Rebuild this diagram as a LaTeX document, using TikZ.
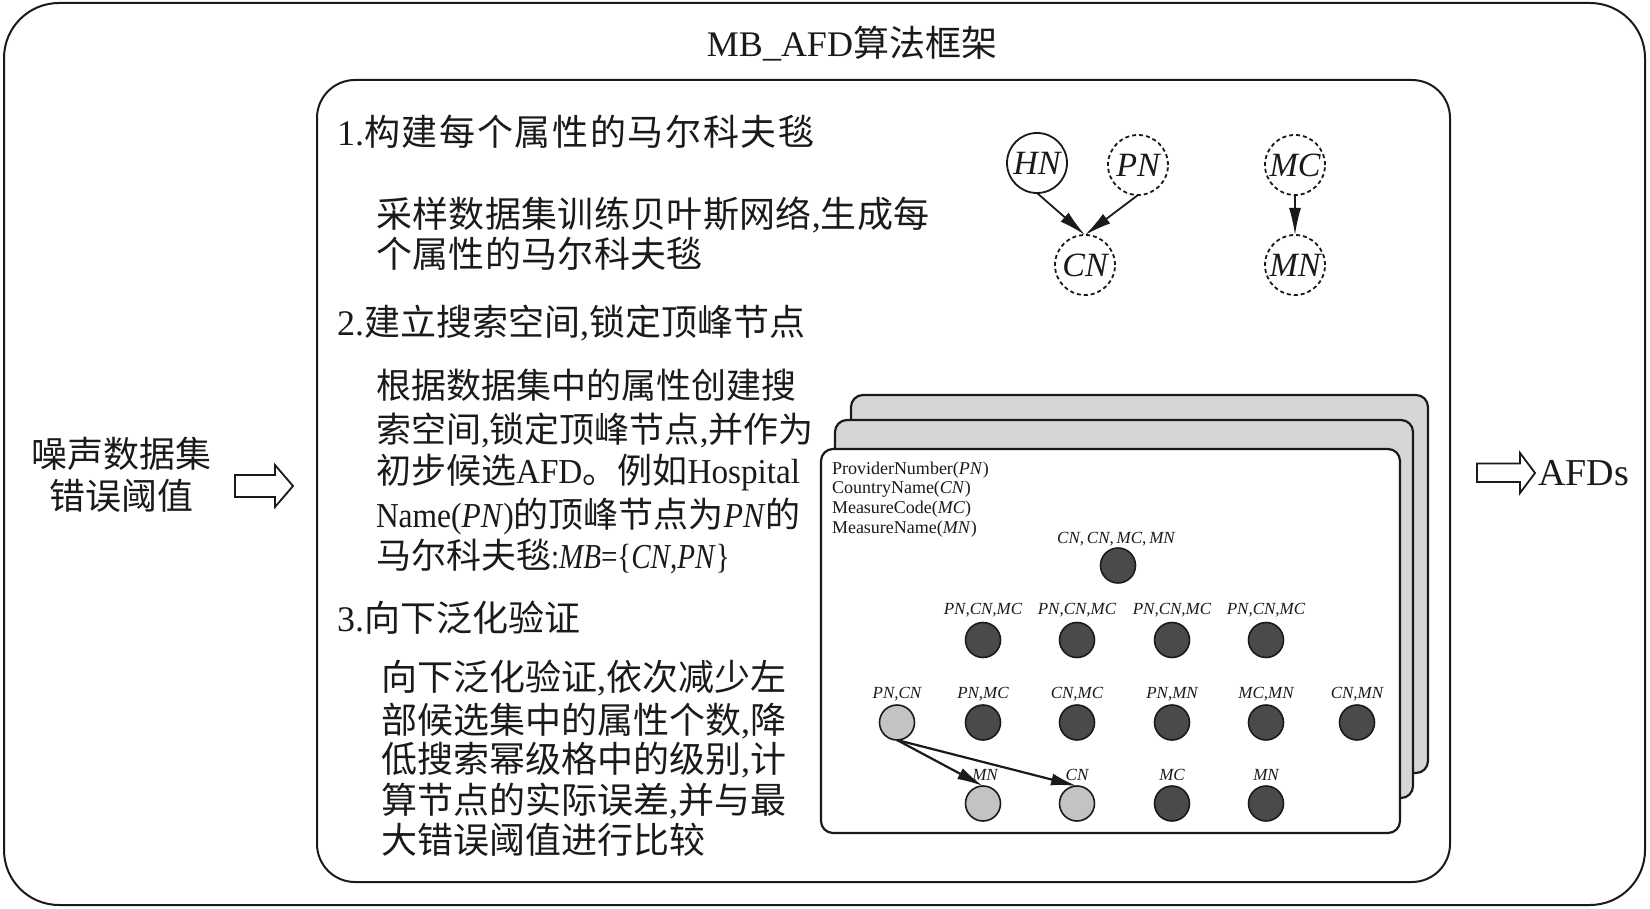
\documentclass[tikz,border=0pt]{standalone}
\usepackage{fontspec}
\usepackage{graphicx}
\setmainfont{Liberation Serif}
\newfontfamily\cjk{Noto Sans CJK SC}
\usetikzlibrary{arrows.meta}
\newcount\cjkc
\cjkc="4E00
\loop\XeTeXcharclass\cjkc=7 \advance\cjkc by 1 \ifnum\cjkc<"A000 \repeat
\XeTeXcharclass"3002=7
\newdimen\cjkgap
\cjkgap=0pt
\XeTeXinterchartoks 7 7 = {\hskip\cjkgap\relax}
\XeTeXinterchartokenstate=1
\definecolor{cardgray}{RGB}{214,214,214}
\definecolor{dkfill}{RGB}{74,74,74}
\definecolor{ltfill}{RGB}{195,195,195}
\definecolor{linec}{RGB}{26,26,26}
\newcommand{\sqz}[2]{\scalebox{#1}[1]{#2}}
\begin{document}
\begin{tikzpicture}[x=1pt,y=-1pt,
  every node/.style={inner sep=0pt, outer sep=0pt, text=linec},
  txt/.style={anchor=base west, font=\fontsize{36}{40}\selectfont},
  txtb/.style={anchor=base west, font=\fontsize{35}{40}\selectfont},
  ctxt/.style={anchor=base, font=\fontsize{36}{40}\selectfont},
  frame/.style={draw=linec, line width=2pt},
  card/.style={draw=linec, line width=2.2pt, rounded corners=12pt},
  legend/.style={anchor=base west, font=\fontsize{18}{20}\selectfont},
  bn/.style={circle, draw=linec, line width=1.8pt, minimum size=60pt, font=\fontsize{34}{34}\selectfont\itshape},
  bnd/.style={bn, dash pattern=on 4pt off 3pt},
  barr/.style={draw=linec, line width=1.8pt, -{Latex[length=27pt,width=12pt]}},
  carr/.style={draw=linec, line width=2.2pt, -{Latex[length=26pt,width=12pt]}},
  dk/.style={circle, draw=linec, line width=1.6pt, fill=dkfill, minimum size=35pt},
  lt/.style={circle, draw=linec, line width=1.6pt, fill=ltfill, minimum size=35pt},
  lab/.style={anchor=base, font=\fontsize{17}{17}\selectfont\itshape},
  barrow/.style={draw=linec, line width=1.8pt, fill=white, line join=miter}
]
\useasboundingbox (0,0) rectangle (1650,909);

% frames
\draw[frame, rounded corners=55pt] (4,3) rectangle (1645,905);
\draw[frame, rounded corners=38pt] (317,80) rectangle (1450,882);

% title
\node[ctxt] (title) at (852,57) {MB\_AFD{\cjk 算法框架}};

% input
\node[ctxt] (in1) at (121,467) {\cjk 噪声数据集};
\node[ctxt] (in2) at (121,509) {\cjk 错误阈值};
\draw[barrow] (235,475) -- (275,475) -- (275,465) -- (293,486) -- (275,507) -- (275,497) -- (235,497) -- cycle;

% output
\draw[barrow] (1477,463.5) -- (1520,463.5) -- (1520,453) -- (1535,473) -- (1520,493) -- (1520,482) -- (1477,482) -- cycle;
\node[anchor=base west, font=\fontsize{38}{40}\selectfont] (afds) at (1538,485) {AFDs};

% step 1
\node[txt] (h1) at (337,146) {\cjkgap=1.7pt 1.{\cjk 构建每个属性的马尔科夫毯}};
\node[txt] (p1a) at (376,228) {\cjkgap=0.35pt {\cjk 采样数据集训练贝叶斯网络},{\cjk 生成每}};
\node[txt] (p1b) at (376,268) {\cjkgap=0.35pt {\cjk 个属性的马尔科夫毯}};

% step 2
\node[txt] (h2) at (337,336) {2.{\cjk 建立搜索空间},{\cjk 锁定顶峰节点}};
\node[txtb] (p2a) at (376,399) {\cjk 根据数据集中的属性创建搜};
\node[txtb] (p2b) at (376,442) {{\cjk 索空间},{\cjk 锁定顶峰节点},{\cjk 并作为}};
\node[txtb] (p2c) at (376,483) {{\cjk 初步候选}\sqz{0.95}{AFD}{\cjk 。例如}\sqz{0.95}{Hospital}};
\node[txtb] (p2d) at (376,527) {\sqz{0.9}{Name(\textit{PN})}{\cjk 的顶峰节点为}\sqz{0.9}{\textit{PN}}{\cjk 的}};
\node[txtb] (p2e) at (376,568) {{\cjk 马尔科夫毯}\sqz{0.83}{:\textit{MB}=\{\textit{CN},\textit{PN}\}}};

% step 3
\node[txt] (h3) at (337,631) {3.{\cjk 向下泛化验证}};
\node[txt] (p3a) at (381,690) {{\cjk 向下泛化验证},{\cjk 依次减少左}};
\node[txt] (p3b) at (381,733) {{\cjk 部候选集中的属性个数},{\cjk 降}};
\node[txt] (p3c) at (381,772) {{\cjk 低搜索幂级格中的级别},{\cjk 计}};
\node[txt] (p3d) at (381,813) {{\cjk 算节点的实际误差},{\cjk 并与最}};
\node[txt] (p3e) at (381,853) {\cjk 大错误阈值进行比较};

% Bayesian network
\node[bn]  (HN) at (1037,163) {HN};
\node[bnd] (PN) at (1138,165) {PN};
\node[bnd] (MC) at (1295,165) {MC};
\node[bnd] (CN) at (1085,265) {CN};
\node[bnd] (MN) at (1295,265) {MN};
\draw[barr] (HN.south) -- (CN.north);
\draw[barr] (PN.south) -- (CN.north);
\draw[barr] (MC.south) -- (MN.north);

% stacked cards
\draw[card, fill=cardgray] (851,395) rectangle (1428,773);
\draw[card, fill=cardgray] (835,420) rectangle (1413,798);
\draw[card, fill=white] (821,449) rectangle (1400,833);

\node[legend] (lg1) at (832,474) {ProviderNumber(\textit{PN})};
\node[legend] (lg2) at (832,493.7) {CountryName(\textit{CN})};
\node[legend] (lg3) at (832,513.4) {MeasureCode(\textit{MC})};
\node[legend] (lg4) at (832,533) {MeasureName(\textit{MN})};

% lattice
\node[dk] (t0) at (1118,565.5) {};
\node[lab] (lt0) at (1116,543) {CN,\,CN,\,MC,\,MN};

\node[dk] (r2a) at (983,640) {};
\node[dk] (r2b) at (1077,640) {};
\node[dk] (r2c) at (1172,640) {};
\node[dk] (r2d) at (1266,640) {};
\node[lab] (l2a) at (983,614) {PN,CN,MC};
\node[lab] (l2b) at (1077,614) {PN,CN,MC};
\node[lab] (l2c) at (1172,614) {PN,CN,MC};
\node[lab] (l2d) at (1266,614) {PN,CN,MC};

\node[lt] (r3a) at (897,722.5) {};
\node[dk] (r3b) at (983,722.5) {};
\node[dk] (r3c) at (1077,722.5) {};
\node[dk] (r3d) at (1172,722.5) {};
\node[dk] (r3e) at (1266,722.5) {};
\node[dk] (r3f) at (1357,722.5) {};
\node[lab] (l3a) at (897,698) {PN,CN};
\node[lab] (l3b) at (983,698) {PN,MC};
\node[lab] (l3c) at (1077,698) {CN,MC};
\node[lab] (l3d) at (1172,698) {PN,MN};
\node[lab] (l3e) at (1266,698) {MC,MN};
\node[lab] (l3f) at (1357,698) {CN,MN};

\node[lt] (r4a) at (983,803.5) {};
\node[lt] (r4b) at (1077,803.5) {};
\node[dk] (r4c) at (1172,803.5) {};
\node[dk] (r4d) at (1266,803.5) {};
\node[lab] (l4a) at (985,780) {MN};
\node[lab] (l4b) at (1077,780) {CN};
\node[lab] (l4c) at (1172,780) {MC};
\node[lab] (l4d) at (1266,780) {MN};

\draw[carr] (r3a.south) -- (r4a.north);
\draw[carr] (r3a.south) -- (r4b.north);
\end{tikzpicture}
\end{document}
